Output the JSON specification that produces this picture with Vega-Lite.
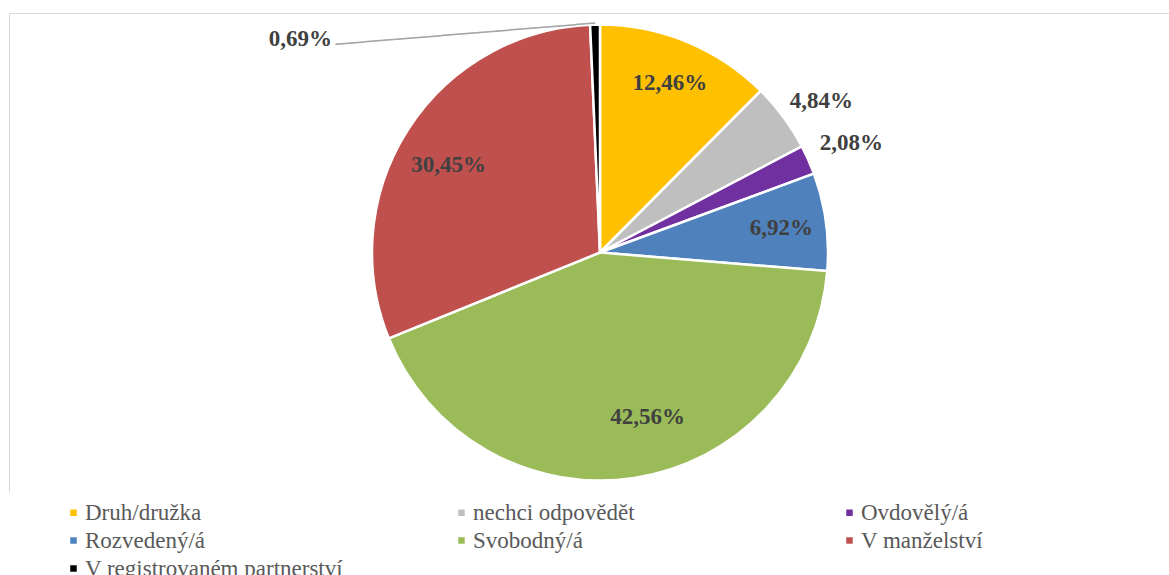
{
  "$schema": "https://vega.github.io/schema/vega-lite/v6.json",
  "autosize": {"type": "none"},
  "width": 1182,
  "height": 479,
  "padding": {"left": 9, "top": 13, "right": -22, "bottom": 83},
  "background": "white",
  "view": {"stroke": "#D9D9D9", "strokeWidth": 1, "strokeDash": [1661, 1182, 600]},
  "config": {
    "locale": {"number": {"decimal": ",", "thousands": "\u00a0", "grouping": [3], "currency": ["", " Kč"]}},
    "legend": {"labelFont": "Liberation Serif", "labelFontSize": 23, "labelColor": "#595959"}
  },
  "data": {
    "values": [
      {"stav": "Druh/družka", "podil": 0.1246, "poradi": 1},
      {"stav": "nechci odpovědět", "podil": 0.0484, "poradi": 2},
      {"stav": "Ovdovělý/á", "podil": 0.0208, "poradi": 3},
      {"stav": "Rozvedený/á", "podil": 0.0692, "poradi": 4},
      {"stav": "Svobodný/á", "podil": 0.4256, "poradi": 5},
      {"stav": "V manželství", "podil": 0.3045, "poradi": 6},
      {"stav": "V registrovaném partnerství", "podil": 0.0069, "poradi": 7}
    ]
  },
  "encoding": {
    "theta": {"field": "podil", "type": "quantitative", "stack": true},
    "order": {"field": "poradi", "type": "quantitative", "sort": "ascending"}
  },
  "layer": [
    {
      "mark": {"type": "arc", "outerRadius": 228, "stroke": "white", "strokeWidth": 2.5},
      "encoding": {
        "color": {
          "field": "stav",
          "type": "nominal",
          "scale": {
            "domain": ["Druh/družka", "nechci odpovědět", "Ovdovělý/á", "Rozvedený/á", "Svobodný/á", "V manželství", "V registrovaném partnerství"],
            "range": ["#FFC000", "#BFBFBF", "#7030A0", "#4F81BD", "#9BBB59", "#C0504D", "#000000"]
          },
          "legend": {
            "orient": "none",
            "direction": "horizontal",
            "legendX": 53,
            "legendY": 488,
            "title": null,
            "columns": 3,
            "gridAlign": "all",
            "columnPadding": 106,
            "rowPadding": 4,
            "padding": 0,
            "symbolType": "square",
            "symbolSize": 42,
            "symbolStrokeWidth": 0,
            "labelFont": "Liberation Serif",
            "labelFontSize": 23,
            "labelColor": "#595959",
            "labelOffset": 0,
            "labelLimit": 400
          }
        }
      }
    },
    {
      "mark": {"type": "text", "radius": 183, "font": "Liberation Serif", "fontSize": 23, "fontWeight": "bold", "color": "#404040", "align": "center", "baseline": "middle"},
      "encoding": {
        "detail": {"field": "stav", "type": "nominal"},
        "text": {
          "condition": {"test": "indexof(['Druh/družka', 'Rozvedený/á'], datum.stav) < 0", "value": ""},
          "field": "podil", "type": "quantitative", "format": ".2%"
        }
      }
    },
    {
      "mark": {"type": "text", "radius": 180, "dy": 10, "font": "Liberation Serif", "fontSize": 23, "fontWeight": "bold", "color": "#404040", "align": "center", "baseline": "middle"},
      "encoding": {
        "detail": {"field": "stav", "type": "nominal"},
        "text": {
          "condition": {"test": "datum.stav !== 'V manželství'", "value": ""},
          "field": "podil", "type": "quantitative", "format": ".2%"
        }
      }
    },
    {
      "mark": {"type": "text", "radius": 175, "dx": 21, "dy": -8, "font": "Liberation Serif", "fontSize": 23, "fontWeight": "bold", "color": "#404040", "align": "center", "baseline": "middle"},
      "encoding": {
        "detail": {"field": "stav", "type": "nominal"},
        "text": {
          "condition": {"test": "datum.stav !== 'Svobodný/á'", "value": ""},
          "field": "podil", "type": "quantitative", "format": ".2%"
        }
      }
    },
    {
      "mark": {"type": "text", "radius": 275, "dy": 12, "font": "Liberation Serif", "fontSize": 23, "fontWeight": "bold", "color": "#404040", "align": "center", "baseline": "middle"},
      "encoding": {
        "detail": {"field": "stav", "type": "nominal"},
        "text": {
          "condition": {"test": "datum.stav !== 'nechci odpovědět'", "value": ""},
          "field": "podil", "type": "quantitative", "format": ".2%"
        }
      }
    },
    {
      "mark": {"type": "text", "radius": 275, "dy": 2, "font": "Liberation Serif", "fontSize": 23, "fontWeight": "bold", "color": "#404040", "align": "center", "baseline": "middle"},
      "encoding": {
        "detail": {"field": "stav", "type": "nominal"},
        "text": {
          "condition": {"test": "datum.stav !== 'Ovdovělý/á'", "value": ""},
          "field": "podil", "type": "quantitative", "format": ".2%"
        }
      }
    },
    {
      "mark": {"type": "text", "radius": 227, "dx": -263, "dy": 13, "font": "Liberation Serif", "fontSize": 23, "fontWeight": "bold", "color": "#404040", "align": "right", "baseline": "middle"},
      "encoding": {
        "detail": {"field": "stav", "type": "nominal"},
        "text": {
          "condition": {"test": "datum.stav !== 'V registrovaném partnerství'", "value": ""},
          "field": "podil", "type": "quantitative", "format": ".2%"
        }
      }
    },
    {
      "mark": {"type": "text", "radius": 227, "dy": -2, "angle": -4.67, "font": "DejaVu Sans Mono", "fontSize": 16, "color": "#A6A6A6", "align": "right", "baseline": "middle"},
      "encoding": {
        "detail": {"field": "stav", "type": "nominal"},
        "text": {
          "condition": {"test": "datum.stav !== 'V registrovaném partnerství'", "value": ""},
          "value": "───────────────────────────"
        }
      }
    }
  ]
}
